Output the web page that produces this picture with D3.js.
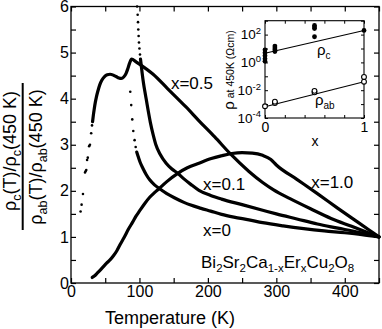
<!DOCTYPE html>
<html>
<head>
<meta charset="utf-8">
<script src="https://cdn.jsdelivr.net/npm/d3@7"></script>
<style>
  body{margin:0;background:#fff;}
  svg{display:block;font-family:"Liberation Sans",Arial,Helvetica,sans-serif;}
</style>
</head>
<body>
<svg id="chart" width="382" height="329"></svg>
<script>
// ---- data: [T (K), normalised ratio] ----
const x0Dots = [[86.6,4.15],[88,3.86],[89.5,3.55],[91,3.30],[92.9,3.10],[94.5,2.95]];
const x0Line = [[96,2.84],[98,2.75],[101,2.62],[105,2.49],[110,2.35],[115,2.24],[122,2.13],[129,2.05],
  [140,1.94],[151,1.85],[165,1.75],[175,1.69],[190,1.62],[204,1.56],[220,1.49],[238,1.43],[260,1.37],
  [280,1.31],[310,1.24],[340,1.18],[370,1.13],[400,1.09],[425,1.05],[450,1.0]];

const x01Dots = [[96.6,6.0],[97.4,5.82],[97.9,5.66],[98.3,5.5],[98.8,5.36],[99.3,5.22],[100,5.09],[100.8,4.96]];
const x01Line = [[101.5,4.86],[102.5,4.74],[104,4.55],[106,4.33],[108,4.15],[110,3.98],[113,3.72],[116,3.48],
  [120,3.22],[124,3.0],[130,2.80],[139,2.60],[147,2.48],[156,2.38],[165,2.26],[175,2.14],[187,2.01],
  [204,1.90],[220,1.82],[250,1.70],[280,1.58],[300,1.50],[330,1.39],[360,1.28],[390,1.19],
  [420,1.10],[450,1.0]];

const x05Dots = [[14,1.55],[15.5,1.70],[17.5,1.93],[20.5,2.40],[21.5,2.43],[22.3,2.45],[23.5,2.67],
  [24.5,2.72],[26.5,2.97],[27.7,3.0],[29.5,3.25],[30.7,3.42]];
const x05Line = [[31.5,3.50],[32.5,3.62],[34,3.78],[35.5,3.92],[37,4.03],[39,4.15],[42,4.30],[45,4.40],
  [49,4.48],[53,4.52],[57,4.53],[62,4.51],[66,4.48],[70,4.45],[73.5,4.44],[77,4.47],[80.5,4.55],[83,4.65],
  [85.6,4.77],[88.5,4.86],[95,4.80],[100,4.75],[120,4.53],[141,4.22],[168,3.82],[187,3.52],[210,3.17],
  [233,2.80],[260,2.42],[280,2.18],[296,2.02],[320,1.83],[350,1.61],[380,1.40],[410,1.23],[450,1.0]];

const x10Line = [[31,0.12],[34,0.15],[38,0.21],[42,0.27],[47,0.35],[52,0.43],[57,0.5],[62,0.59],[67,0.7],
  [72,0.84],[78,1.0],[84,1.17],[90,1.32],[95,1.45],[100,1.56],[107,1.71],[115,1.86],[122,1.96],[129,2.05],
  [140,2.2],[156,2.38],[170,2.5],[187,2.6],[205,2.7],[220,2.76],[235,2.81],[250,2.83],[265,2.82],
  [280,2.77],[292,2.68],[300,2.56],[330,2.25],[360,1.94],[390,1.62],[420,1.31],[450,1.0]];

const curveLabels = [
  {text:"x=0.5", T:146, r:4.22},
  {text:"x=0.1", T:193, r:2.01},
  {text:"x=0",   T:193, r:1.02},
  {text:"x=1.0", T:351, r:2.07}
];

// inset: resistivity at 450 K (ohm cm) versus Er content x
const rhoC  = [[0,8],[0,5],[0,3],[0,1.8],[0,1.2],[0.1,15],[0.1,11],[0.1,8],[0.1,6],
  [0.5,450],[0.5,350],[0.5,270],[0.5,70],[1,200]];
const rhoAb = [[0,7e-4],[0.1,1.2e-3],[0.1,1.5e-3],[0.5,7e-3],[0.5,9e-3],[1,0.041],[1,0.09]];
const rhoCFit  = [[0,4.5],[1,200]];
const rhoAbFit = [[0,6.5e-4],[1,0.04]];
const insetDecades = [1e-4,1e-3,1e-2,1e-1,1,10,100,1000];
const insetLabels = [[1e-4,"-4"],[1e-2,"-2"],[1,"0"],[100,"2"]];

// ---- layout ----
const svg = d3.select('#chart');
const x = d3.scaleLinear().domain([0,450]).range([71,379]);
const y = d3.scaleLinear().domain([0,6]).range([283,6.5]);

const line = d3.line().x(d => x(d[0])).y(d => y(d[1])).curve(d3.curveMonotoneX);

function styleAxis(g){
  g.select('.domain').remove();
  g.selectAll('.tick line').attr('stroke','#000').attr('stroke-width',1.2);
  g.selectAll('.tick text').attr('font-size',16).attr('fill','#000')
    .attr('font-family','"Liberation Sans",Arial,sans-serif');
}

const tickVals = d3.range(0,451,50);
svg.append('g').attr('transform','translate(0,283)')
  .call(d3.axisBottom(x).tickValues(tickVals).tickSizeInner(-5).tickSizeOuter(0).tickPadding(3)
    .tickFormat(d => d % 100 === 0 ? d : ''))
  .call(styleAxis);
svg.append('g').attr('transform','translate(0,6.5)')
  .call(d3.axisTop(x).tickValues(tickVals).tickSizeInner(-5).tickSizeOuter(0).tickFormat(''))
  .call(styleAxis);
const yTicks = d3.range(0,6.01,0.5);
svg.append('g').attr('transform','translate(71,0)')
  .call(d3.axisLeft(y).tickValues(yTicks).tickSizeInner(-5).tickSizeOuter(0).tickPadding(2)
    .tickFormat(d => Number.isInteger(d) ? d : ''))
  .call(styleAxis);
svg.append('g').attr('transform','translate(379,0)')
  .call(d3.axisRight(y).tickValues(yTicks).tickSizeInner(-5).tickSizeOuter(0).tickFormat(''))
  .call(styleAxis);

svg.append('rect').attr('x',71).attr('y',6.5).attr('width',308).attr('height',276.5)
  .attr('fill','none').attr('stroke','#000').attr('stroke-width',1.3);

// ---- curves ----
const curves = svg.append('g');
[x0Line, x01Line, x05Line, x10Line].forEach(data => {
  curves.append('path').datum(data).attr('d', line)
    .attr('fill','none').attr('stroke','#000').attr('stroke-width',3.2)
    .attr('stroke-linecap','round').attr('stroke-linejoin','round');
});
curves.selectAll('circle.dot').data([...x0Dots, ...x01Dots, ...x05Dots]).enter()
  .append('circle').attr('class','dot')
  .attr('cx', d => x(d[0])).attr('cy', d => y(d[1])).attr('r',1.3).attr('fill','#000');

svg.selectAll('text.clabel').data(curveLabels).enter().append('text')
  .attr('class','clabel').attr('x', d => x(d.T)).attr('y', d => y(d.r))
  .attr('font-size',17).text(d => d.text);

// compound formula
const formula = svg.append('text').attr('x',201).attr('y',268).attr('font-size',17);
[["Bi",0],["2",1],["Sr",0],["2",1],["Ca",0],["1-x",1],["Er",0],["x",1],["Cu",0],["2",1],["O",0],["8",1]]
  .forEach(([t, sub], i, arr) => {
    const prevSub = i > 0 && arr[i-1][1];
    const dy = sub && !prevSub ? 4 : (!sub && prevSub ? -4 : 0);
    formula.append('tspan').attr('dy',dy).attr('font-size', sub ? 11.5 : 17).text(t);
  });

// axis titles
svg.append('text').attr('x',170).attr('y',324).attr('text-anchor','middle')
  .attr('font-size',18).text('Temperature (K)');

function ratioLabel(sub, tx, ty){
  const t = svg.append('text').attr('transform',`translate(${tx},${ty}) rotate(-90)`)
    .attr('text-anchor','middle').attr('font-size',18);
  t.append('tspan').text('ρ');
  t.append('tspan').attr('dy',4.5).attr('font-size',12.5).text(sub);
  t.append('tspan').attr('dy',-4.5).text('(T)/ρ');
  t.append('tspan').attr('dy',4.5).attr('font-size',12.5).text(sub);
  t.append('tspan').attr('dy',-4.5).text('(450 K)');
}
ratioLabel('c', 16, 151);
ratioLabel('ab', 42, 157);
svg.append('line').attr('x1',22.7).attr('x2',22.7).attr('y1',83).attr('y2',230)
  .attr('stroke','#000').attr('stroke-width',2);

// ---- inset ----
const ix = d3.scaleLinear().domain([0,1]).range([265,364]);
const iy = d3.scaleLog().domain([1e-4,1e3]).range([118,20.7]);
const inset = svg.append('g');

inset.append('rect').attr('x',265).attr('y',20.7).attr('width',99).attr('height',97.3)
  .attr('fill','#fff').attr('stroke','#000').attr('stroke-width',1.1);

function styleInset(g){
  g.select('.domain').remove();
  g.selectAll('.tick line').attr('stroke','#000').attr('stroke-width',1);
  g.selectAll('.tick text').attr('font-size',14).attr('fill','#000')
    .attr('font-family','"Liberation Sans",Arial,sans-serif');
}
inset.append('g').attr('transform','translate(265,0)')
  .call(d3.axisLeft(iy).tickValues(insetDecades).tickSizeInner(-3).tickSizeOuter(0).tickFormat(''))
  .call(styleInset);
inset.append('g').attr('transform','translate(364,0)')
  .call(d3.axisRight(iy).tickValues(insetDecades).tickSizeInner(-3).tickSizeOuter(0).tickFormat(''))
  .call(styleInset);
inset.append('g').attr('transform','translate(0,118)')
  .call(d3.axisBottom(ix).tickValues(d3.range(0,1.01,0.2)).tickSizeInner(-3).tickSizeOuter(0).tickPadding(4)
    .tickFormat(d => (d === 0 || d === 1) ? d : ''))
  .call(styleInset);
inset.append('g').attr('transform','translate(0,20.7)')
  .call(d3.axisTop(ix).tickValues(d3.range(0,1.01,0.2)).tickSizeInner(-3).tickSizeOuter(0).tickFormat(''))
  .call(styleInset);

insetLabels.forEach(([v, e]) => {
  const t = inset.append('text').attr('x',261).attr('y',iy(v)+4.8)
    .attr('text-anchor','end').attr('font-size',13.5);
  t.append('tspan').text('10');
  t.append('tspan').attr('dy',-5.5).attr('font-size',9.5).text(e);
});

const iline = d3.line().x(d => ix(d[0])).y(d => iy(d[1]));
inset.append('path').datum(rhoCFit).attr('d',iline).attr('stroke','#000').attr('stroke-width',1.1).attr('fill','none');
inset.append('path').datum(rhoAbFit).attr('d',iline).attr('stroke','#000').attr('stroke-width',1.1).attr('fill','none');

inset.selectAll('circle.c').data(rhoC).enter().append('circle').attr('class','c')
  .attr('cx', d => ix(d[0])).attr('cy', d => iy(d[1])).attr('r',2.4).attr('fill','#000');
inset.selectAll('circle.ab').data(rhoAb).enter().append('circle').attr('class','ab')
  .attr('cx', d => ix(d[0])).attr('cy', d => iy(d[1])).attr('r',2.4)
  .attr('fill','#fff').attr('stroke','#000').attr('stroke-width',1.1);

const rc = inset.append('text').attr('x',317).attr('y',55).attr('font-size',15);
rc.append('tspan').text('ρ');
rc.append('tspan').attr('dy',3.5).attr('font-size',10).text('c');
const rab = inset.append('text').attr('x',315).attr('y',105).attr('font-size',15);
rab.append('tspan').text('ρ');
rab.append('tspan').attr('dy',3.5).attr('font-size',10).text('ab');

inset.append('text').attr('x',315).attr('y',146).attr('text-anchor','middle')
  .attr('font-size',14).text('x');
const iyl = inset.append('text').attr('transform','translate(234,70) rotate(-90)')
  .attr('text-anchor','middle');
iyl.append('tspan').attr('font-size',15).text('ρ');
iyl.append('tspan').attr('font-size',10.5).text(' at 450K (Ωcm)');
</script>
</body>
</html>
